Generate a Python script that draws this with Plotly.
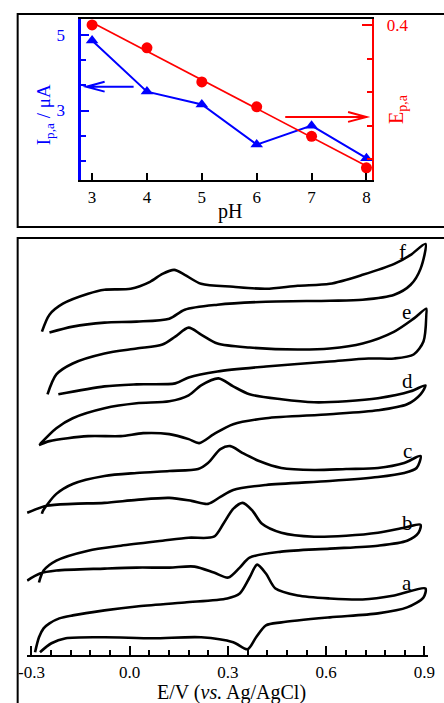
import plotly.graph_objects as go

W, H = 444, 703
SERIF = "Liberation Serif, Times New Roman, serif"

# ---------------- top panel data ----------------
pH = [3, 4, 5, 6, 7, 8]
Ipa_uA = [4.85, 3.50, 3.16, 2.10, 2.60, 1.74]
Epa_V = [0.400, 0.366, 0.315, 0.278, 0.234, 0.187]

# ---------------- bottom panel data (E / V, current a.u. with offsets) ----------------
a_E = [-0.289, -0.277, -0.263, -0.245, -0.215, -0.174, -0.077, 0.021, 0.168, 0.298, 0.336, 0.366, 0.389,
       0.416, 0.445, 0.513, 0.611, 0.711, 0.808, 0.903,
       0.897, 0.847, 0.758, 0.611, 0.463, 0.416, 0.386, 0.360, 0.316, 0.218, 0.071, -0.077, -0.195,
       -0.239, -0.274]
a_I = [0.0, 1.5, 2.4, 2.9, 3.4, 3.7, 4.2, 4.6, 5.0, 5.4, 5.9, 7.5, 8.8,
       7.9, 6.4, 5.7, 5.4, 5.3, 5.7, 6.4,
       5.5, 4.5, 3.9, 3.5, 3.0, 2.7, 1.5, 0.3, 1.0, 1.5, 1.4, 1.5, 1.4,
       0.9, 0.0]

b_E = [-0.277, -0.263, -0.224, -0.127, -0.027, 0.100, 0.180, 0.257, 0.286, 0.316, 0.345, 0.375, 0.404,
       0.463, 0.563, 0.661, 0.758, 0.838, 0.888,
       0.882, 0.847, 0.758, 0.611, 0.463, 0.366, 0.336, 0.301, 0.257, 0.198, 0.121, 0.021, -0.077,
       -0.224, -0.274, -0.313]
b_I = [7.0, 8.2, 9.2, 10.2, 10.7, 11.2, 11.5, 11.6, 12.9, 14.4, 15.0, 14.2, 12.9,
       12.0, 11.6, 11.7, 12.0, 12.5, 12.8,
       12.0, 11.2, 10.7, 10.4, 10.1, 9.5, 8.5, 7.5, 8.0, 8.6, 8.5, 8.5, 8.4,
       8.2, 7.9, 7.2]

c_E = [-0.268, -0.265, -0.224, -0.174, -0.077, 0.021, 0.121, 0.209, 0.239, 0.277, 0.307, 0.345, 0.395,
       0.463, 0.563, 0.661, 0.758, 0.838, 0.888,
       0.876, 0.838, 0.758, 0.611, 0.416, 0.316, 0.277, 0.239, 0.189, 0.121, 0.021, -0.077, -0.174,
       -0.254, -0.313]
c_I = [13.9, 14.2, 15.9, 16.9, 17.7, 18.0, 18.2, 18.4, 19.0, 20.4, 20.7, 20.0, 19.2,
       18.5, 18.3, 18.4, 18.5, 19.0, 19.7,
       18.5, 18.0, 17.6, 17.2, 16.8, 16.3, 15.6, 14.9, 15.2, 15.5, 15.3, 15.0, 14.9,
       14.7, 14.0]

d_E = [-0.274, -0.224, -0.174, -0.077, 0.021, 0.121, 0.180, 0.218, 0.271, 0.316, 0.366, 0.463, 0.563,
       0.661, 0.758, 0.858, 0.903,
       0.888, 0.847, 0.758, 0.611, 0.416, 0.316, 0.257, 0.212, 0.180, 0.121, 0.041, -0.027, -0.127,
       -0.245, -0.277]
d_I = [20.9, 22.5, 23.5, 24.5, 25.0, 25.2, 25.8, 26.8, 27.5, 26.7, 25.9, 25.4, 25.1,
       25.2, 25.5, 26.2, 26.8,
       25.9, 24.9, 24.3, 23.9, 23.5, 22.9, 21.9, 21.0, 21.4, 21.9, 22.0, 21.7, 21.7,
       21.2, 20.8]

e_E = [-0.251, -0.224, -0.174, -0.077, 0.021, 0.100, 0.139, 0.180, 0.218, 0.268, 0.366, 0.513, 0.611,
       0.711, 0.808, 0.867, 0.906,
       0.906, 0.897, 0.867, 0.808, 0.729, 0.611, 0.416, 0.268, 0.180, 0.139, 0.021, -0.077, -0.218]
e_I = [25.9, 27.9, 29.0, 30.0, 30.5, 30.9, 31.7, 32.6, 31.9, 31.0, 30.6, 30.4, 30.5,
       31.0, 32.2, 33.5, 34.5,
       33.9, 31.2, 29.9, 29.5, 29.5, 29.2, 28.7, 28.2, 27.6, 27.0, 26.9, 26.7, 25.9]

f_E = [-0.268, -0.245, -0.204, -0.127, -0.077, 0.003, 0.062, 0.100, 0.136, 0.168, 0.218, 0.316, 0.416,
       0.513, 0.611, 0.711, 0.808, 0.858, 0.903,
       0.888, 0.858, 0.808, 0.711, 0.611, 0.416, 0.268, 0.168, 0.121, 0.021, -0.077, -0.174, -0.245]
f_I = [32.2, 33.9, 35.0, 36.0, 36.4, 36.5, 37.2, 38.0, 38.4, 37.9, 37.0, 36.7, 36.5,
       36.8, 37.0, 37.9, 39.0, 39.9, 41.0,
       38.5, 36.9, 35.9, 35.4, 35.3, 35.2, 34.9, 34.4, 33.5, 33.2, 33.1, 32.7, 32.1]

curve_labels = ["a", "b", "c", "d", "e", "f"]
curve_E = [a_E, b_E, c_E, d_E, e_E, f_E]
curve_I = [a_I, b_I, c_I, d_I, e_I, f_I]
label_E = [0.846, 0.849, 0.849, 0.849, 0.846, 0.834]
label_I = [7.0, 13.0, 20.2, 27.2, 34.2, 40.2]

x_ticks_top = [3, 4, 5, 6, 7, 8]
y_left_major = [5, 3]
y_left_minor = [4.333, 3.667, 2.333, 1.667]
y_right_major = [0.4]
y_right_minor = [0.35, 0.30, 0.25, 0.20]
x_ticks_bottom = [-0.3, 0.0, 0.3, 0.6, 0.9]
x_ticklabels_bottom = ["-0.3", "0.0", "0.3", "0.6", "0.9"]


def px_x(p):
    return p / W


def px_y(p):
    return 1 - p / H


fig = go.Figure()

# linear fit for E_pa
n = len(pH)
mx = sum(pH) / n
my = sum(Epa_V) / n
slope = sum((x - mx) * (y - my) for x, y in zip(pH, Epa_V)) / sum((x - mx) ** 2 for x in pH)
icpt = my - slope * mx
fit_x = [pH[0], pH[-1]]
fit_y = [icpt + slope * x for x in fit_x]

fig.add_trace(go.Scatter(x=fit_x, y=fit_y, mode="lines", line=dict(color="#ff0000", width=1.6),
                         xaxis="x", yaxis="y2", showlegend=False))
fig.add_trace(go.Scatter(x=pH, y=Epa_V, mode="markers", marker=dict(color="#ff0000", size=11, symbol="circle"),
                         xaxis="x", yaxis="y2", showlegend=False, cliponaxis=False))
fig.add_trace(go.Scatter(x=pH, y=Ipa_uA, mode="lines+markers", line=dict(color="#0000ff", width=2),
                         marker=dict(color="#0000ff", size=11, symbol="triangle-up"),
                         xaxis="x", yaxis="y", showlegend=False, cliponaxis=False))

for E, I in zip(curve_E, curve_I):
    fig.add_trace(go.Scatter(x=E, y=I, mode="lines", line=dict(color="black", width=2.6, shape="spline", smoothing=0.8),
                             xaxis="x2", yaxis="y3", showlegend=False))

tickfont = dict(family=SERIF, size=17, color="black")

fig.update_layout(
    width=W, height=H, margin=dict(l=0, r=0, t=0, b=0),
    paper_bgcolor="white", plot_bgcolor="white",
    xaxis=dict(domain=[px_x(76), px_x(377)], range=[2.806, 8.106], anchor="y",
               showline=True, linecolor="black", linewidth=2, mirror=True,
               ticks="inside", ticklen=7, tickwidth=2, tickcolor="black",
               tickvals=x_ticks_top, tickfont=tickfont, showgrid=False, zeroline=False),
    yaxis=dict(domain=[px_y(178), px_y(16)], range=[1.158, 5.421], anchor="x",
               showline=True, linecolor="#0000ff", linewidth=3,
               ticks="inside", ticklen=8, tickwidth=2, tickcolor="#0000ff", ticklabelstandoff=10,
               tickvals=y_left_major, tickfont=dict(family=SERIF, size=17, color="#0000ff"),
               minor=dict(tickvals=y_left_minor, ticks="inside", ticklen=5, tickwidth=2, tickcolor="#0000ff"),
               showgrid=False, zeroline=False),
    yaxis2=dict(overlaying="y", side="right", anchor="x", range=[0.1685, 0.409],
                showline=True, linecolor="#ff0000", linewidth=2,
                ticks="inside", ticklen=10, tickwidth=2, tickcolor="#ff0000", ticklabelstandoff=9,
                tickvals=y_right_major, ticktext=["0.4"],
                tickfont=dict(family=SERIF, size=17, color="#ff0000"),
                minor=dict(tickvals=y_right_minor, ticks="inside", ticklen=5, tickwidth=2, tickcolor="#ff0000"),
                showgrid=False, zeroline=False),
    xaxis2=dict(domain=[px_x(19.2), px_x(434.4)], range=[-0.315, 0.91], anchor="y3",
                showline=True, linecolor="black", linewidth=2,
                ticks="inside", ticklen=9, tickwidth=2, tickcolor="black",
                tickvals=x_ticks_bottom, ticktext=x_ticklabels_bottom, tickfont=tickfont,
                minor=dict(tick0=-0.3, dtick=0.06, ticks="inside", ticklen=5, tickwidth=2, tickcolor="black"),
                showgrid=False, zeroline=False),
    yaxis3=dict(domain=[px_y(655), px_y(237)], range=[-0.3, 41.5], anchor="x2", visible=False),
)

# panel frames
fig.add_shape(type="rect", xref="paper", yref="paper", x0=px_x(10), x1=1.05, y0=px_y(225), y1=px_y(11),
              line=dict(color="black", width=2), layer="below")
fig.add_shape(type="rect", xref="paper", yref="paper", x0=px_x(10), x1=1.05, y0=-0.05, y1=px_y(236),
              line=dict(color="black", width=2), layer="below")

# arrows (open heads)
blue_arrow_y, red_arrow_y = 3.63, 2.83
fig.add_shape(type="path", xref="x", yref="y",
              path=f"M 3.757 {blue_arrow_y} L 2.894 {blue_arrow_y} M 3.229 {blue_arrow_y + 0.13} "
                   f"L 2.894 {blue_arrow_y} L 3.229 {blue_arrow_y - 0.13}",
              line=dict(color="#0000ff", width=2))
fig.add_shape(type="path", xref="x", yref="y",
              path=f"M 6.52 {red_arrow_y} L 8.0 {red_arrow_y} M 7.665 {red_arrow_y + 0.13} "
                   f"L 8.0 {red_arrow_y} L 7.665 {red_arrow_y - 0.13}",
              line=dict(color="#ff0000", width=2))

# titles
ann_common = dict(showarrow=False, xanchor="center", yanchor="middle")
fig.add_annotation(text="I<sub>p,a</sub> / μA", xref="paper", yref="paper", x=px_x(38), y=px_y(112),
                   textangle=-90, font=dict(family=SERIF, size=19, color="#0000ff"), **ann_common)
fig.add_annotation(text="E<sub>p,a</sub>", xref="paper", yref="paper", x=px_x(403), y=px_y(106),
                   textangle=-90, font=dict(family=SERIF, size=20, color="#ff0000"), **ann_common)
fig.add_annotation(text="pH", xref="paper", yref="paper", x=px_x(230), y=px_y(209),
                   font=dict(family=SERIF, size=20, color="black"), **ann_common)
fig.add_annotation(text="E/V (<i>vs.</i> Ag/AgCl)", xref="paper", yref="paper", x=px_x(231), y=px_y(692),
                   font=dict(family=SERIF, size=20, color="black"), **ann_common)

for lab, xe, yi in zip(curve_labels, label_E, label_I):
    fig.add_annotation(text=lab, x=xe, y=yi, xref="x2", yref="y3",
                       font=dict(family=SERIF, size=21, color="black"), **ann_common)

fig.write_html("out.html", config={"displayModeBar": False},
               post_script="document.body.style.margin='0';document.body.style.padding='0';"
                           "document.body.style.overflow='hidden';")
